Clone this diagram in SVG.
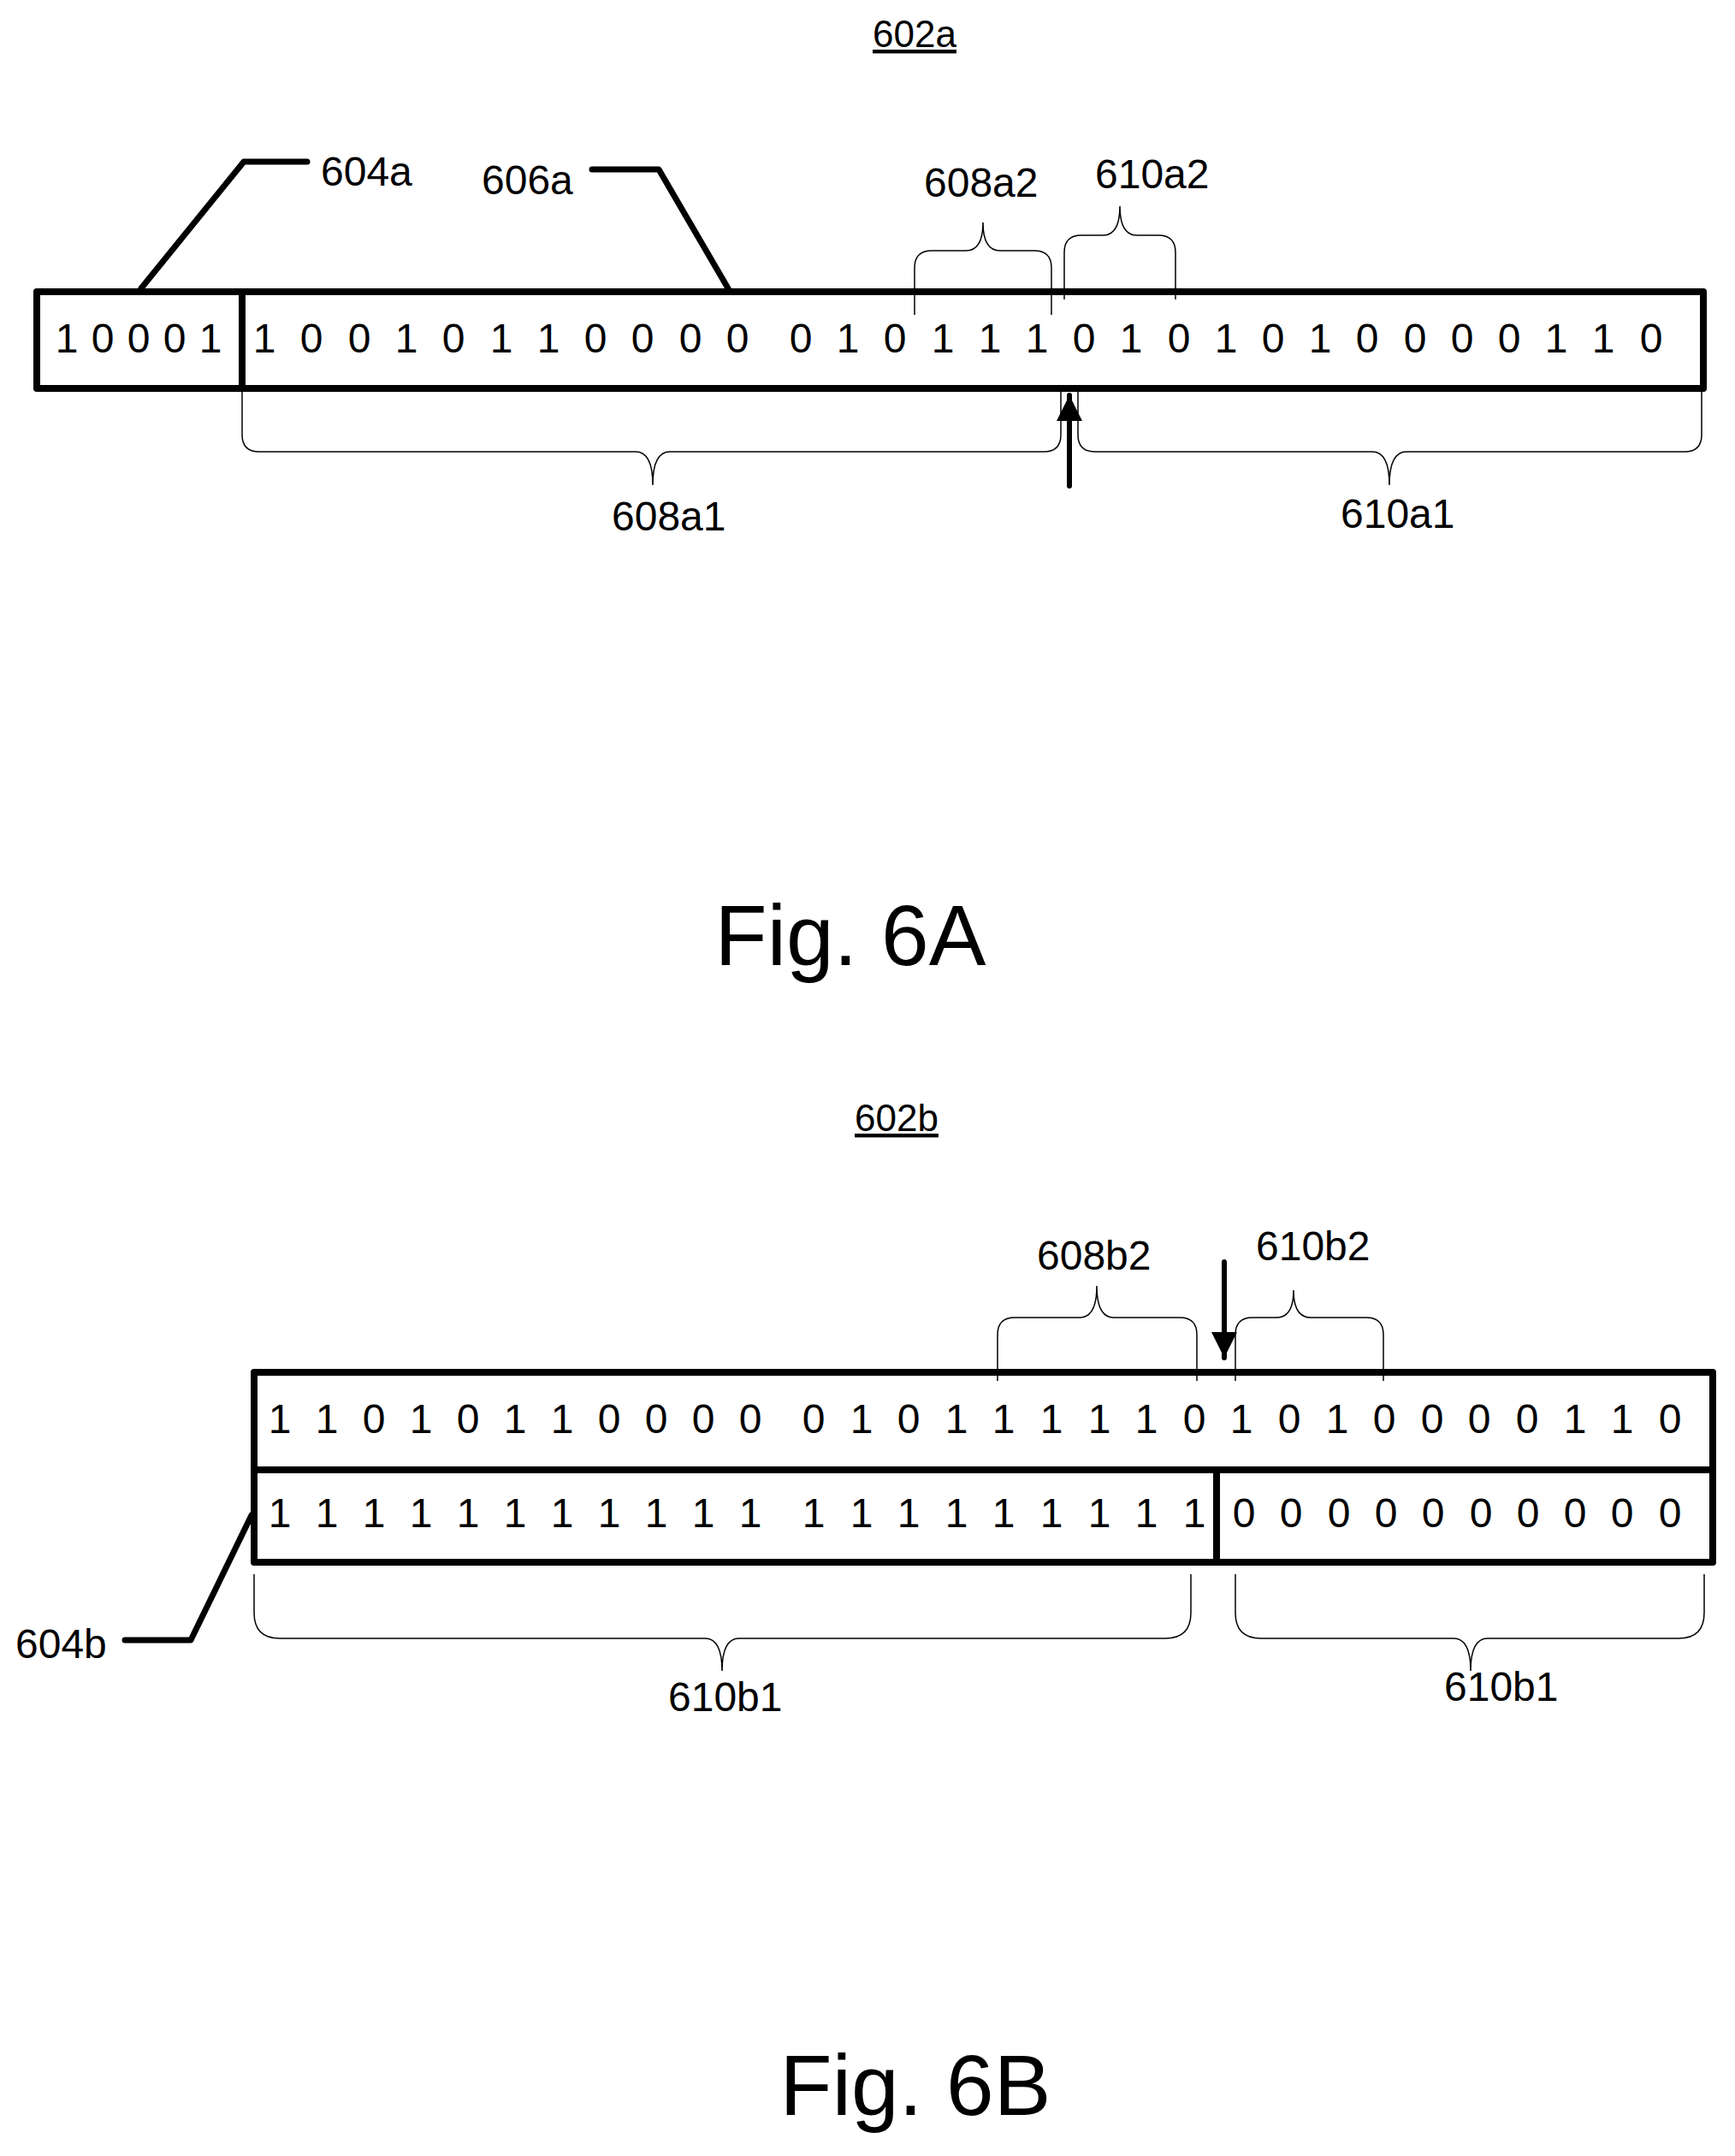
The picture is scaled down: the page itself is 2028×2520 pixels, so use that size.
<svg xmlns="http://www.w3.org/2000/svg" width="2028" height="2520" viewBox="0 0 2028 2520">
<style>
text{font-family:"Liberation Sans",Arial,sans-serif;fill:#000}
.d{font-size:48px;text-anchor:middle}
.l{font-size:48px}
.t{font-size:44px;text-anchor:middle;text-decoration:underline}
.f{font-size:100px;text-anchor:middle}
.box{fill:none;stroke:#000;stroke-width:8;stroke-linejoin:round}
.ld{fill:none;stroke:#000;stroke-width:7;stroke-linecap:round;stroke-linejoin:round}
.br{fill:none;stroke:#000;stroke-width:1.5}
</style>
<defs><marker id="ah" viewBox="0 0 10 10" refX="10" refY="5" markerWidth="5" markerHeight="5" orient="auto" markerUnits="strokeWidth"><path d="M0,0 L10,5 L0,10 z" fill="#000"/></marker></defs>
<text class="t" x="1069" y="55">602a</text>
<g id="reg6a">
<rect class="box" x="43" y="341" width="1948" height="113"/>
<line class="box" x1="283" y1="341" x2="283" y2="454"/>
<text class="d" y="412"><tspan x="78">1</tspan><tspan x="120">0</tspan><tspan x="162">0</tspan><tspan x="204">0</tspan><tspan x="246">1</tspan></text>
<text class="d" y="412"><tspan x="309">1</tspan><tspan x="364">0</tspan><tspan x="420">0</tspan><tspan x="475">1</tspan><tspan x="530">0</tspan><tspan x="586">1</tspan><tspan x="641">1</tspan><tspan x="696">0</tspan><tspan x="751">0</tspan><tspan x="807">0</tspan><tspan x="862">0</tspan><tspan x="936">0</tspan><tspan x="991">1</tspan><tspan x="1046">0</tspan><tspan x="1102">1</tspan><tspan x="1157">1</tspan><tspan x="1212">1</tspan><tspan x="1267">0</tspan><tspan x="1322">1</tspan><tspan x="1378">0</tspan><tspan x="1433">1</tspan><tspan x="1488">0</tspan><tspan x="1543">1</tspan><tspan x="1598">0</tspan><tspan x="1654">0</tspan><tspan x="1709">0</tspan><tspan x="1764">0</tspan><tspan x="1819">1</tspan><tspan x="1874">1</tspan><tspan x="1930">0</tspan></text>
</g>
<g id="lbl604a"><polyline class="ld" points="165,337 285,189 359,189"/><text class="l" x="375" y="217">604a</text></g>
<g id="lbl606a"><polyline class="ld" points="692,198 770,198 851,337"/><text class="l" x="563" y="227">606a</text></g>
<g id="connectors6a">
<path class="br" d="M283,456 L283,508 Q283,528 303,528 L743,528 Q763,528 763,567 Q763,528 783,528 L1220,528 Q1240,528 1240,508 L1240,456"/>
<path class="br" d="M1260,456 L1260,508 Q1260,528 1280,528 L1604,528 Q1624,528 1624,567 Q1624,528 1644,528 L1969,528 Q1989,528 1989,508 L1989,456"/>
<path class="br" d="M1069,368 L1069,313 Q1069,293 1089,293 L1129,293 Q1149,293 1149,260 Q1149,293 1169,293 L1209,293 Q1229,293 1229,313 L1229,368"/>
<path class="br" d="M1244,350 L1244,295 Q1244,275 1264,275 L1289,275 Q1309,275 1309,241 Q1309,275 1329,275 L1354,275 Q1374,275 1374,295 L1374,350"/>
<line x1="1250" y1="568" x2="1250" y2="462" stroke="#000" stroke-width="6" stroke-linecap="round" marker-end="url(#ah)"/>
</g>
<text class="l" x="715" y="620">608a1</text>
<text class="l" x="1567" y="617">610a1</text>
<text class="l" x="1080" y="230">608a2</text>
<text class="l" x="1280" y="220">610a2</text>
<text class="f" x="994" y="1128">Fig. 6A</text>

<text class="t" x="1048" y="1322">602b</text>
<g id="reg6b">
<rect class="box" x="297" y="1604" width="1705" height="222"/>
<line class="box" x1="297" y1="1718" x2="2002" y2="1718"/>
<line class="box" x1="1422" y1="1718" x2="1422" y2="1826"/>
<text class="d" y="1675"><tspan x="327">1</tspan><tspan x="382">1</tspan><tspan x="437">0</tspan><tspan x="492">1</tspan><tspan x="547">0</tspan><tspan x="602">1</tspan><tspan x="657">1</tspan><tspan x="712">0</tspan><tspan x="767">0</tspan><tspan x="822">0</tspan><tspan x="877">0</tspan><tspan x="951">0</tspan><tspan x="1007">1</tspan><tspan x="1062">0</tspan><tspan x="1118">1</tspan><tspan x="1173">1</tspan><tspan x="1229">1</tspan><tspan x="1285">1</tspan><tspan x="1340">1</tspan><tspan x="1396">0</tspan><tspan x="1451">1</tspan><tspan x="1507">0</tspan><tspan x="1563">1</tspan><tspan x="1618">0</tspan><tspan x="1674">0</tspan><tspan x="1729">0</tspan><tspan x="1785">0</tspan><tspan x="1841">1</tspan><tspan x="1896">1</tspan><tspan x="1952">0</tspan></text>
<text class="d" y="1785"><tspan x="327">1</tspan><tspan x="382">1</tspan><tspan x="437">1</tspan><tspan x="492">1</tspan><tspan x="547">1</tspan><tspan x="602">1</tspan><tspan x="657">1</tspan><tspan x="712">1</tspan><tspan x="767">1</tspan><tspan x="822">1</tspan><tspan x="877">1</tspan><tspan x="951">1</tspan><tspan x="1007">1</tspan><tspan x="1062">1</tspan><tspan x="1118">1</tspan><tspan x="1173">1</tspan><tspan x="1229">1</tspan><tspan x="1285">1</tspan><tspan x="1340">1</tspan><tspan x="1396">1</tspan><tspan x="1454">0</tspan><tspan x="1509">0</tspan><tspan x="1565">0</tspan><tspan x="1620">0</tspan><tspan x="1675">0</tspan><tspan x="1731">0</tspan><tspan x="1786">0</tspan><tspan x="1841">0</tspan><tspan x="1896">0</tspan><tspan x="1952">0</tspan></text>
</g>
<g id="lbl604b"><polyline class="ld" points="146,1917 223,1917 294,1771"/><text class="l" x="18" y="1938">604b</text></g>
<g id="connectors6b">
<path class="br" d="M1166,1614 L1166,1560 Q1166,1540 1186,1540 L1262,1540 Q1282,1540 1282,1503 Q1282,1540 1302,1540 L1379,1540 Q1399,1540 1399,1560 L1399,1614"/>
<path class="br" d="M1444,1614 L1444,1560 Q1444,1540 1464,1540 L1492,1540 Q1512,1540 1512,1508 Q1512,1540 1532,1540 L1597,1540 Q1617,1540 1617,1560 L1617,1614"/>
<path class="br" d="M297,1840 L297,1885 Q297,1915 327,1915 L824,1915 Q844,1915 844,1953 Q844,1915 864,1915 L1362,1915 Q1392,1915 1392,1885 L1392,1840"/>
<path class="br" d="M1444,1840 L1444,1885 Q1444,1915 1474,1915 L1699,1915 Q1719,1915 1719,1953 Q1719,1915 1739,1915 L1962,1915 Q1992,1915 1992,1885 L1992,1840"/>
<line x1="1431" y1="1475" x2="1431" y2="1587" stroke="#000" stroke-width="6" stroke-linecap="round" marker-end="url(#ah)"/>
</g>
<text class="l" x="1212" y="1484">608b2</text>
<text class="l" x="1468" y="1473">610b2</text>
<text class="l" x="781" y="2000">610b1</text>
<text class="l" x="1688" y="1988">610b1</text>
<text class="f" x="1070" y="2472">Fig. 6B</text>
</svg>
